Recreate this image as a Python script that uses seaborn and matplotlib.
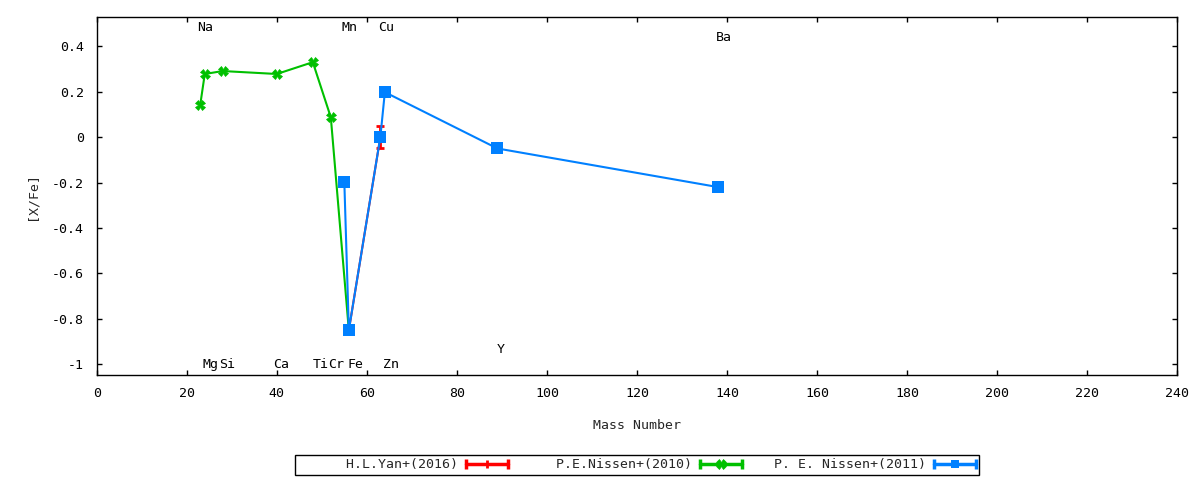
import matplotlib
matplotlib.use('Agg')

import matplotlib.pyplot as plt
import seaborn as sns
from matplotlib.lines import Line2D
from matplotlib.legend_handler import HandlerBase
from matplotlib.ticker import FuncFormatter, MultipleLocator

# data (mass number vs [X/Fe])
yan_mass = [56, 63]
yan_xfe = [-0.85, 0.0]
yan_err = [0.0, 0.05]

nissen10_mass = [23, 24, 28, 40, 48, 52, 56]
nissen10_xfe = [0.143, 0.278, 0.291, 0.278, 0.330, 0.087, -0.85]

nissen11_mass = [55, 56, 63, 64, 89, 138]
nissen11_xfe = [-0.198, -0.850, 0.0, 0.198, -0.05, -0.220]

# element labels along top / bottom of the plot
elem_names = ['Na', 'Mn', 'Cu', 'Ba', 'Mg', 'Si', 'Ca', 'Ti', 'Cr', 'Fe', 'Zn', 'Y']
elem_x = [22.3, 54.3, 62.6, 137.5, 23.6, 27.2, 39.2, 47.9, 51.4, 55.7, 63.5, 88.8]
elem_y = [0.483, 0.483, 0.483, 0.438, -1.0, -1.0, -1.0, -1.0, -1.0, -1.0, -1.0, -0.935]

series_labels = ['H.L.Yan+(2016)', 'P.E.Nissen+(2010)', 'P. E. Nissen+(2011)']
RED, GREEN, BLUE = '#ff0000', '#00c000', '#0080ff'

sns.set_style('ticks')
plt.rcParams['font.family'] = ['DejaVu Sans Mono']
plt.rcParams['font.size'] = 9.5

fig = plt.figure(figsize=(12, 4.8), dpi=100)
ax = fig.add_axes([0.0806, 0.219, 0.9004, 0.7456])

# red series (line + error bar)
sns.lineplot(x=yan_mass, y=yan_xfe, sort=False, color=RED, marker='+',
             markersize=7, markeredgewidth=2, linewidth=1.5, ax=ax, legend=False)
ax.errorbar(yan_mass, yan_xfe, yerr=yan_err, fmt='none', ecolor=RED,
            elinewidth=2, capsize=3, capthick=2)

sns.lineplot(x=nissen10_mass, y=nissen10_xfe, sort=False, color=GREEN, marker='X',
             markersize=7, markeredgewidth=0.5, markeredgecolor=GREEN,
             linewidth=1.5, ax=ax, legend=False)

sns.lineplot(x=nissen11_mass, y=nissen11_xfe, sort=False, color=BLUE, marker='s',
             markersize=8, markeredgewidth=0, linewidth=1.5, ax=ax, legend=False)

for name, x, y in zip(elem_names, elem_x, elem_y):
    ax.text(x, y, name, ha='left', va='center', fontsize=9.5, color='black')

ax.set_xlim(0, 240)
ax.set_ylim(-1.047, 0.529)
ax.xaxis.set_major_locator(MultipleLocator(20))
ax.yaxis.set_major_locator(MultipleLocator(0.2))
ax.yaxis.set_major_formatter(FuncFormatter(lambda v, p: f"{round(v, 6) + 0:g}"))
ax.tick_params(direction='in', top=True, right=True, length=3.6, width=1, pad=9,
               labelsize=9.5, colors='black')
for s in ax.spines.values():
    s.set_color('black')
    s.set_linewidth(1)

ax.set_xlabel('Mass Number', fontsize=9.5)
ax.set_ylabel('[X/Fe]', fontsize=9.5)
ax.xaxis.set_label_coords(0.5, -0.123)
ax.yaxis.set_label_coords(-0.054, 0.5)


# gnuplot-like key sample: line with end caps and the point in the middle
class KeySample(HandlerBase):
    def create_artists(self, legend, orig, xd, yd, width, height, fontsize, trans):
        y = height / 2 - yd
        x0, x1 = -xd, width - xd
        c = orig.get_color()
        line = Line2D([x0, x1], [y, y], color=c, lw=2.5)
        caps = Line2D([x0, x1], [y, y], ls='none', marker='|', ms=7, mew=2.5, color=c)
        pt = Line2D([(x0 + x1) / 2], [y], ls='none', marker=orig.get_marker(),
                    ms=orig.get_markersize(), mew=orig.get_markeredgewidth(), color=c)
        for a in (line, caps, pt):
            a.set_transform(trans)
        return [line, caps, pt]


handles = [Line2D([], [], color=RED, marker='|', markersize=6, markeredgewidth=2),
           Line2D([], [], color=GREEN, marker='X', markersize=7, markeredgewidth=0.5),
           Line2D([], [], color=BLUE, marker='s', markersize=6, markeredgewidth=0)]
width = max(len(s) for s in series_labels) + 1
labels = [s.rjust(width) for s in series_labels]
leg = ax.legend(handles, labels, loc='center', bbox_to_anchor=(0.5, -0.251), ncol=3,
                markerfirst=False, frameon=True, fancybox=False, edgecolor='black',
                framealpha=1, borderpad=0.25, handlelength=3.2, handletextpad=0.6,
                columnspacing=1.8, fontsize=9.5,
                handler_map={Line2D: KeySample()})
leg.get_frame().set_linewidth(1)

fig.savefig('out.png', dpi=100)
